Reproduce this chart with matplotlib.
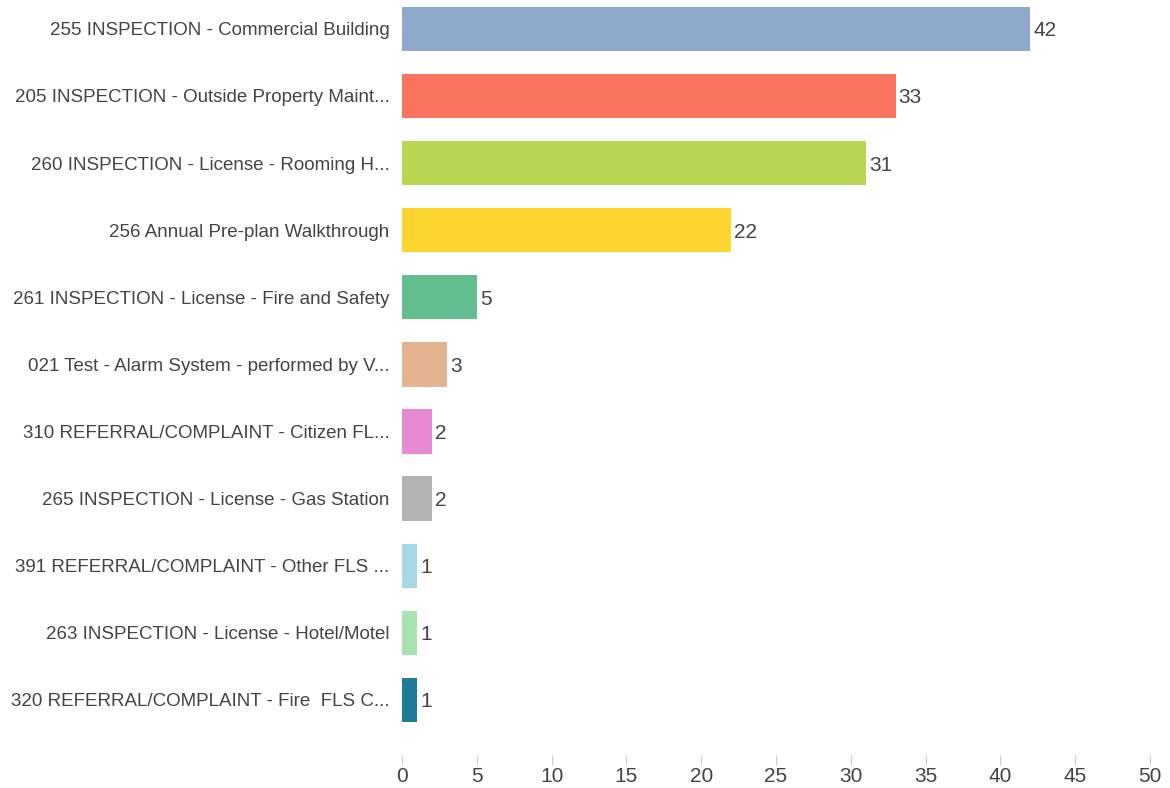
import matplotlib
matplotlib.use("Agg")
import matplotlib.pyplot as plt

# data
categories = [
    "255 INSPECTION - Commercial Building",
    "205 INSPECTION - Outside Property Maint...",
    "260 INSPECTION - License - Rooming H...",
    "256 Annual Pre-plan Walkthrough",
    "261 INSPECTION - License - Fire and Safety",
    "021 Test - Alarm System - performed by V...",
    "310 REFERRAL/COMPLAINT - Citizen FL...",
    "265 INSPECTION - License - Gas Station",
    "391 REFERRAL/COMPLAINT - Other FLS ...",
    "263 INSPECTION - License - Hotel/Motel",
    "320 REFERRAL/COMPLAINT - Fire  FLS C...",
]
counts = [42, 33, 31, 22, 5, 3, 2, 2, 1, 1, 1]
bar_colors = ["#8EA9CB", "#F9735F", "#B8D652", "#FDD530", "#62BE8E", "#E4B491",
              "#E78AD1", "#B3B3B3", "#A6D8E6", "#A8E2B0", "#1F7A9A"]
xticks = [0, 5, 10, 15, 20, 25, 30, 35, 40, 45, 50]

plt.rcParams['font.family'] = ['Liberation Sans', 'DejaVu Sans']

fig = plt.figure(figsize=(11.7, 7.88), dpi=100)
ax = fig.add_axes([0.3436, 0.0419, 0.6394, 0.9581])

ypos = list(range(len(categories)))
bars = ax.barh(ypos, counts, height=0.66, color=bar_colors)

# value labels just right of each bar
for b, v in zip(bars, counts):
    ax.text(b.get_width() + 0.2, b.get_y() + b.get_height() / 2, str(v),
            va="center_baseline", ha="left", fontsize=15, color="#444444")

ax.set_yticks(ypos)
ax.set_yticklabels(categories, fontsize=13.5, color="#444444")
ax.set_ylim(10.82, -0.43)
ax.set_xlim(0, 50)
ax.set_xticks(xticks)
ax.set_xticklabels([str(t) for t in xticks], fontsize=15, color="#444444")

for s in ax.spines.values():
    s.set_visible(False)
ax.tick_params(axis="y", length=0, pad=9)
ax.tick_params(axis="x", length=7, color="#cccccc", direction="out", pad=2)

fig.savefig("out.png", dpi=100)
